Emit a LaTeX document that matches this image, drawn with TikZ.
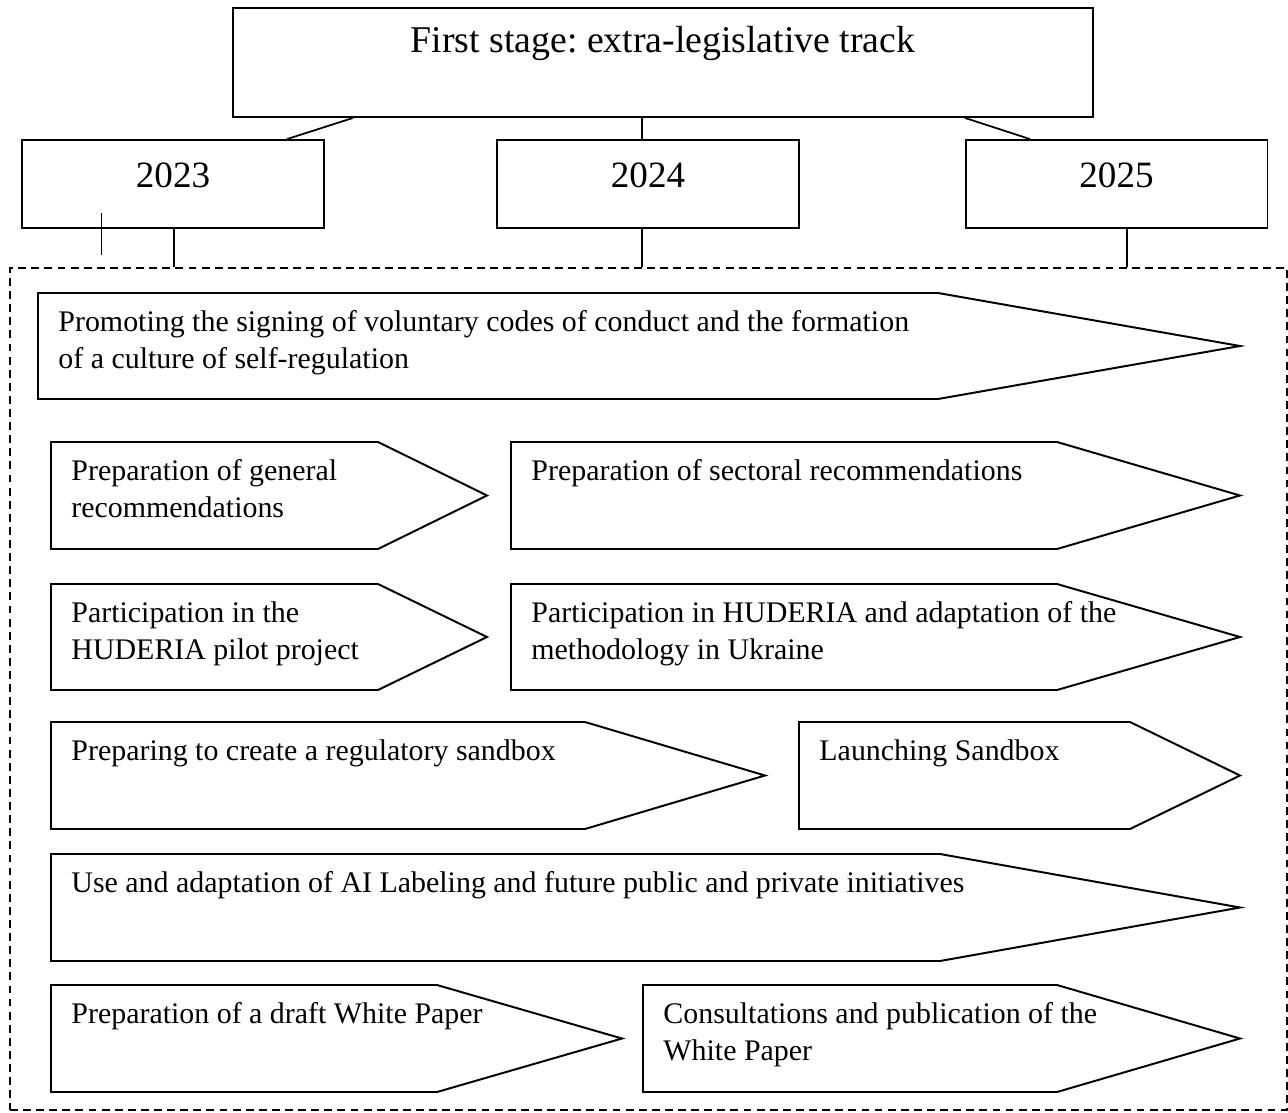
\documentclass[tikz,border=0pt]{standalone}
\usepackage{fontspec}
\setmainfont{Liberation Serif}
\frenchspacing
\usetikzlibrary{shapes,arrows}
\tikzstyle{stagebox} = [rectangle, draw, line width=0.9pt, inner sep=0pt,
    minimum width=393.9pt, text height=20.6pt, text depth=29.3pt, font=\fontsize{17.3}{20}\selectfont]
\tikzstyle{yearbox} = [rectangle, draw, line width=0.9pt, inner sep=0pt,
    minimum width=138.3pt, text height=21.5pt, text depth=18.8pt, font=\fontsize{17}{20}\selectfont]
\tikzstyle{dashframe} = [rectangle, draw, dash pattern=on 3.6pt off 2.4pt, line width=0.6pt,
    minimum width=584.9pt, minimum height=385.6pt, inner sep=0pt]
\tikzstyle{line} = [draw, line width=0.8pt]
\tikzstyle{arrowshape} = [draw, line width=0.9pt, line join=miter]
\tikzstyle{arrowtext} = [anchor=north west, inner sep=0pt, align=left,
    font=\fontsize{13.7}{16.9}\selectfont]
% name, left, top, bottom, shoulder, tip, text
\newcommand{\stagearrow}[7]{%
  \draw[arrowshape] (#2,#3) -- (#5,#3) -- (#6,{(#3+#4)/2}) -- (#5,#4) -- (#2,#4) -- cycle;
  \node[arrowtext] (#1) at (#2+20,#3+12) {\strut #7};
}

\begin{document}
\begin{tikzpicture}[x=0.458pt, y=-0.458pt]
    \useasboundingbox (0,0) rectangle (1288,1113);
    \node[stagebox, anchor=base] (first) at (663,53) {First stage: extra-legislative track};
    \node[yearbox, anchor=base] (y2023) at (173,187) {2023};
    \node[yearbox, anchor=base] (y2024) at (648,187) {2024};
    \node[yearbox, anchor=base] (y2025) at (1116.5,187) {2025};
    \node[dashframe] (frame) at (648.5,689) {};

    \path[line] (first.south -| 353,0) -- (y2023.north -| 287,0);
    \path[line] (first.south -| 642,0) -- (y2024.north -| 642,0);
    \path[line] (first.south -| 965,0) -- (y2025.north -| 1030,0);
    \path[line] (y2023.south -| 174,0) -- (frame.north -| 174,0);
    \path[line] (y2024.south -| 642,0) -- (frame.north -| 642,0);
    \path[line] (y2025.south -| 1127,0) -- (frame.north -| 1127,0);
    \draw[line width=0.4pt] (101,213) -- (101,255);

    \stagearrow{codes}{38}{293}{399}{938}{1240}{Promoting the signing of voluntary codes of conduct and the formation\\of a culture of self-regulation}
    \stagearrow{general}{51}{442}{549}{378}{487}{Preparation of general\\recommendations}
    \stagearrow{sectoral}{511}{442}{549}{1057}{1240}{Preparation of sectoral recommendations}
    \stagearrow{pilot}{51}{584}{690}{378}{487}{Participation in the\\HUDERIA pilot project}
    \stagearrow{huderia}{511}{584}{690}{1057}{1240}{Participation in HUDERIA and adaptation of the\\methodology in Ukraine}
    \stagearrow{sandprep}{51}{722}{829}{585}{765}{Preparing to create a regulatory sandbox}
    \stagearrow{sandbox}{799}{722}{829}{1130}{1240}{Launching Sandbox}
    \stagearrow{labeling}{51}{854}{961}{940}{1240}{Use and adaptation of AI Labeling and future public and private initiatives}
    \stagearrow{draft}{51}{985}{1092}{437}{622}{Preparation of a draft White Paper}
    \stagearrow{publish}{643}{985}{1092}{1057}{1240}{Consultations and publication of the\\White Paper}
\end{tikzpicture}
\end{document}
